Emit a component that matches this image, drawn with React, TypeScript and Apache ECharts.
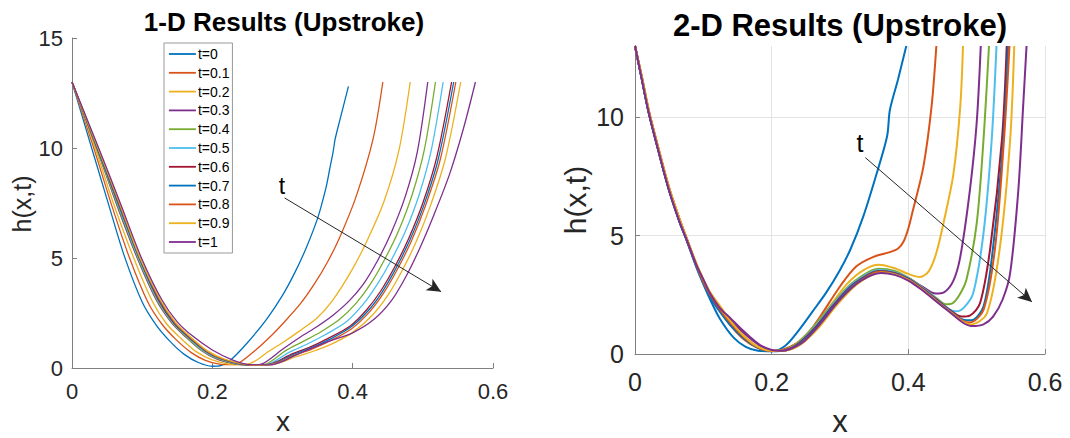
import React, { useEffect, useRef } from "react";
import * as echarts from "echarts";

const tLabels = ["t=0", "t=0.1", "t=0.2", "t=0.3", "t=0.4", "t=0.5", "t=0.6", "t=0.7", "t=0.8", "t=0.9", "t=1"];
const lineColors = ["#0072BD", "#D95319", "#EDB120", "#7E2F8E", "#77AC30", "#4DBEEE", "#A2142F", "#0072BD", "#D95319", "#EDB120", "#7E2F8E"];

const xTicks = [0, 0.2, 0.4, 0.6];
const leftYTicks = [0, 5, 10, 15];
const rightYTicks = [0, 5, 10];

// ---- 1-D results ----
const oneD_t0 = [[0,13],[0.028,10],[0.052,7.45],[0.075,5.05],[0.1,3.0],[0.12,1.95],[0.14,1.2],[0.16,0.62],[0.18,0.25],[0.2,0.08],[0.213,0.12],[0.225,0.33],[0.25,1.15],[0.277,2.2],[0.3,3.3],[0.317,4.3],[0.333,5.4],[0.35,6.8],[0.362,8.2],[0.367,9.0],[0.372,9.8],[0.375,10.4],[0.382,11.3],[0.394,12.8]];
const oneD_t01 = [[0,13],[0.031,10],[0.056,7.45],[0.082,5.0],[0.108,3.0],[0.128,2.0],[0.148,1.3],[0.17,0.7],[0.19,0.35],[0.21,0.18],[0.228,0.15],[0.24,0.27],[0.263,0.85],[0.285,1.5],[0.3,2.0],[0.325,2.9],[0.345,3.8],[0.363,4.75],[0.381,5.9],[0.405,7.8],[0.429,10.4],[0.443,13]];
const oneD_t02 = [[0,13],[0.033,10],[0.06,7.4],[0.088,5],[0.115,3.0],[0.135,2.0],[0.155,1.35],[0.178,0.72],[0.2,0.37],[0.225,0.17],[0.245,0.14],[0.26,0.3],[0.28,0.75],[0.3,1.15],[0.325,1.7],[0.35,2.3],[0.372,3.1],[0.398,4.4],[0.42,5.75],[0.445,7.6],[0.466,9.9],[0.482,13]];
const oneD_t03 = [[0,13],[0.035,10],[0.064,7.4],[0.093,5],[0.12,3.1],[0.142,2.05],[0.163,1.38],[0.185,0.78],[0.205,0.42],[0.23,0.2],[0.255,0.12],[0.272,0.2],[0.3,0.85],[0.325,1.4],[0.35,1.9],[0.372,2.4],[0.395,3.05],[0.415,3.8],[0.435,4.85],[0.455,6.15],[0.475,7.8],[0.492,9.8],[0.507,13]];
const oneD_t04 = [[0,13],[0.035,10],[0.065,7.4],[0.094,5],[0.121,3.1],[0.143,2.05],[0.164,1.38],[0.186,0.78],[0.207,0.42],[0.232,0.2],[0.258,0.12],[0.278,0.2],[0.305,0.8],[0.329,1.2],[0.355,1.65],[0.381,2.2],[0.405,2.95],[0.425,3.8],[0.445,4.9],[0.465,6.2],[0.485,7.9],[0.502,9.9],[0.518,13]];
const oneD_t05 = [[0,13],[0.036,10],[0.066,7.4],[0.095,5],[0.122,3.1],[0.144,2.05],[0.166,1.38],[0.188,0.78],[0.21,0.42],[0.235,0.2],[0.26,0.12],[0.282,0.2],[0.31,0.72],[0.334,1.07],[0.36,1.5],[0.391,2.1],[0.415,2.9],[0.435,3.8],[0.455,4.9],[0.475,6.2],[0.495,7.9],[0.512,9.9],[0.529,13]];
const oneD_t06 = [[0,13],[0.036,10],[0.067,7.4],[0.096,5],[0.123,3.1],[0.145,2.05],[0.167,1.38],[0.19,0.78],[0.212,0.42],[0.237,0.2],[0.262,0.12],[0.285,0.2],[0.312,0.62],[0.339,0.95],[0.365,1.35],[0.396,1.9],[0.42,2.65],[0.44,3.5],[0.46,4.6],[0.48,5.9],[0.5,7.5],[0.52,9.6],[0.541,13]];
const oneD_t07 = [[0,13],[0.036,10],[0.067,7.4],[0.096,5],[0.124,3.1],[0.146,2.05],[0.168,1.38],[0.191,0.78],[0.213,0.42],[0.238,0.2],[0.263,0.12],[0.287,0.2],[0.314,0.6],[0.34,0.9],[0.367,1.3],[0.397,1.85],[0.422,2.6],[0.442,3.45],[0.462,4.55],[0.482,5.85],[0.502,7.45],[0.522,9.5],[0.544,13]];
const oneD_t08 = [[0,13],[0.037,10],[0.068,7.4],[0.097,5],[0.125,3.1],[0.147,2.05],[0.169,1.38],[0.192,0.78],[0.214,0.42],[0.24,0.2],[0.265,0.12],[0.289,0.2],[0.316,0.57],[0.342,0.86],[0.369,1.25],[0.399,1.8],[0.424,2.55],[0.444,3.4],[0.464,4.5],[0.484,5.8],[0.504,7.4],[0.525,9.5],[0.547,13]];
const oneD_t09 = [[0,13],[0.037,10],[0.069,7.4],[0.097,5],[0.126,3.1],[0.148,2.05],[0.17,1.38],[0.193,0.78],[0.216,0.42],[0.242,0.2],[0.268,0.12],[0.292,0.2],[0.318,0.5],[0.343,0.75],[0.372,1.12],[0.4,1.62],[0.428,2.4],[0.45,3.3],[0.47,4.4],[0.49,5.7],[0.51,7.3],[0.532,9.5],[0.554,13]];
const oneD_t1 = [[0,13],[0.038,10],[0.07,7.4],[0.099,5],[0.128,3.1],[0.15,2.1],[0.172,1.45],[0.2,0.82],[0.23,0.35],[0.255,0.15],[0.282,0.14],[0.3,0.3],[0.325,0.68],[0.363,1.18],[0.4,1.6],[0.43,2.2],[0.455,3.05],[0.475,4.1],[0.495,5.4],[0.515,6.9],[0.538,8.8],[0.558,10.9],[0.575,13]];

// ---- 2-D results ----
const twoD_t0 = [[0,13],[0.01,11.6],[0.02,10.2],[0.035,8.5],[0.05,6.9],[0.065,5.6],[0.076,4.75],[0.09,3.65],[0.1,2.95],[0.11,2.3],[0.124,1.5],[0.144,0.7],[0.162,0.3],[0.18,0.14],[0.2,0.12],[0.22,0.35],[0.241,1.05],[0.26,1.8],[0.28,2.6],[0.3,3.55],[0.315,4.4],[0.334,5.8],[0.354,7.65],[0.369,9.2],[0.373,10.3],[0.385,11.6],[0.397,13]];
const twoD_t01 = [[0,13],[0.01,11.7],[0.02,10.3],[0.035,8.6],[0.05,7.0],[0.065,5.7],[0.076,4.85],[0.09,3.75],[0.1,3.05],[0.11,2.45],[0.125,1.8],[0.14,1.2],[0.16,0.6],[0.18,0.25],[0.2,0.13],[0.215,0.17],[0.237,0.46],[0.255,0.95],[0.271,1.58],[0.3,2.85],[0.324,3.7],[0.349,4.1],[0.373,4.3],[0.385,4.45],[0.393,4.75],[0.4,5.3],[0.407,6.1],[0.422,7.9],[0.434,10.45],[0.441,13]];
const twoD_t02 = [[0,13],[0.01,11.7],[0.02,10.3],[0.035,8.6],[0.05,7.0],[0.065,5.7],[0.076,4.85],[0.09,3.8],[0.1,3.15],[0.11,2.6],[0.125,2.0],[0.14,1.4],[0.16,0.75],[0.18,0.3],[0.2,0.14],[0.215,0.15],[0.235,0.4],[0.26,1.1],[0.285,2.0],[0.31,2.95],[0.335,3.55],[0.357,3.77],[0.38,3.62],[0.4,3.38],[0.417,3.25],[0.43,3.5],[0.441,4.27],[0.452,5.6],[0.466,7.6],[0.476,10.45],[0.48,13]];
const twoD_t03 = [[0,13],[0.01,11.6],[0.02,10.2],[0.035,8.5],[0.05,6.9],[0.065,5.6],[0.076,4.8],[0.09,3.75],[0.1,3.1],[0.11,2.5],[0.124,1.9],[0.14,1.4],[0.155,1.0],[0.17,0.62],[0.185,0.32],[0.2,0.15],[0.212,0.13],[0.225,0.22],[0.245,0.55],[0.27,1.35],[0.3,2.4],[0.33,3.2],[0.358,3.55],[0.38,3.45],[0.4,3.2],[0.42,2.85],[0.44,2.55],[0.452,2.6],[0.466,3.1],[0.476,4.1],[0.49,6.9],[0.5,9.75],[0.506,13]];
const twoD_t04 = [[0,13],[0.01,11.6],[0.02,10.2],[0.035,8.5],[0.05,6.9],[0.065,5.6],[0.076,4.8],[0.09,3.7],[0.1,3.05],[0.11,2.45],[0.125,1.85],[0.14,1.3],[0.16,0.7],[0.18,0.28],[0.2,0.13],[0.215,0.15],[0.235,0.4],[0.26,1.1],[0.29,2.15],[0.32,3.05],[0.357,3.6],[0.38,3.5],[0.4,3.22],[0.42,2.82],[0.44,2.38],[0.455,2.1],[0.465,2.15],[0.475,2.5],[0.485,3.13],[0.5,5.5],[0.51,9.05],[0.518,13]];
const twoD_t05 = [[0,13],[0.01,11.6],[0.02,10.2],[0.035,8.5],[0.05,6.9],[0.065,5.6],[0.076,4.8],[0.09,3.7],[0.1,3.05],[0.11,2.45],[0.125,1.85],[0.14,1.3],[0.16,0.7],[0.18,0.28],[0.2,0.13],[0.218,0.15],[0.238,0.42],[0.262,1.1],[0.29,2.1],[0.32,3.0],[0.358,3.55],[0.38,3.45],[0.4,3.2],[0.42,2.8],[0.44,2.35],[0.458,1.92],[0.47,1.8],[0.482,1.98],[0.495,2.57],[0.51,5.1],[0.522,9.05],[0.529,13]];
const twoD_t06 = [[0,13],[0.01,11.6],[0.02,10.2],[0.035,8.5],[0.05,6.9],[0.065,5.6],[0.076,4.8],[0.09,3.7],[0.1,3.05],[0.11,2.45],[0.125,1.85],[0.14,1.3],[0.16,0.7],[0.18,0.28],[0.2,0.13],[0.22,0.16],[0.24,0.45],[0.265,1.15],[0.29,2.05],[0.32,2.95],[0.358,3.5],[0.38,3.42],[0.4,3.18],[0.42,2.78],[0.44,2.33],[0.46,1.88],[0.478,1.58],[0.49,1.62],[0.505,2.15],[0.52,4.5],[0.537,9.05],[0.544,13]];
const twoD_t07 = [[0,13],[0.01,11.6],[0.02,10.2],[0.035,8.5],[0.05,6.9],[0.065,5.6],[0.076,4.8],[0.09,3.7],[0.1,3.0],[0.11,2.4],[0.125,1.75],[0.14,1.2],[0.16,0.65],[0.18,0.26],[0.2,0.12],[0.22,0.15],[0.24,0.42],[0.265,1.1],[0.29,2.0],[0.32,2.92],[0.358,3.48],[0.38,3.4],[0.4,3.16],[0.42,2.76],[0.44,2.3],[0.46,1.85],[0.48,1.45],[0.492,1.42],[0.51,2.0],[0.524,4.5],[0.539,9.05],[0.546,13]];
const twoD_t08 = [[0,13],[0.01,11.7],[0.02,10.3],[0.035,8.6],[0.05,7.0],[0.065,5.7],[0.076,4.85],[0.09,3.75],[0.1,3.05],[0.11,2.5],[0.125,1.85],[0.14,1.3],[0.16,0.7],[0.18,0.28],[0.2,0.13],[0.222,0.16],[0.242,0.42],[0.267,1.1],[0.292,2.0],[0.322,2.92],[0.358,3.47],[0.38,3.38],[0.4,3.14],[0.42,2.74],[0.44,2.28],[0.46,1.82],[0.48,1.4],[0.49,1.33],[0.51,1.86],[0.527,4.5],[0.54,9.05],[0.548,13]];
const twoD_t09 = [[0,13],[0.01,11.7],[0.02,10.3],[0.035,8.6],[0.05,7.0],[0.065,5.7],[0.076,4.85],[0.09,3.8],[0.1,3.15],[0.11,2.6],[0.125,1.95],[0.14,1.38],[0.16,0.74],[0.18,0.3],[0.2,0.14],[0.222,0.16],[0.244,0.44],[0.27,1.15],[0.295,2.05],[0.325,2.95],[0.36,3.44],[0.38,3.36],[0.4,3.12],[0.42,2.72],[0.44,2.26],[0.46,1.8],[0.48,1.36],[0.492,1.25],[0.515,1.72],[0.534,4.5],[0.549,9.05],[0.555,13]];
const twoD_t1 = [[0,13],[0.01,11.6],[0.02,10.2],[0.035,8.5],[0.05,6.9],[0.065,5.6],[0.076,4.8],[0.09,3.75],[0.1,3.15],[0.11,2.55],[0.124,1.95],[0.14,1.5],[0.154,1.1],[0.17,0.68],[0.183,0.38],[0.2,0.17],[0.215,0.14],[0.228,0.22],[0.248,0.55],[0.272,1.3],[0.3,2.3],[0.33,3.08],[0.36,3.42],[0.38,3.34],[0.4,3.1],[0.42,2.7],[0.44,2.24],[0.46,1.78],[0.48,1.32],[0.493,1.18],[0.51,1.25],[0.524,1.58],[0.538,2.3],[0.549,3.41],[0.561,6.93],[0.568,10.45],[0.573,13]];

const oneDCurves = [oneD_t0, oneD_t01, oneD_t02, oneD_t03, oneD_t04, oneD_t05, oneD_t06, oneD_t07, oneD_t08, oneD_t09, oneD_t1];
const twoDCurves = [twoD_t0, twoD_t01, twoD_t02, twoD_t03, twoD_t04, twoD_t05, twoD_t06, twoD_t07, twoD_t08, twoD_t09, twoD_t1];

// arrow annotations (data coordinates): start, end
const arrow1D = [[0.303, 7.73], [0.526, 3.47]];
const arrow2D = [[0.337, 8.29], [0.581, 2.2]];

const FONT = '"Liberation Sans", Arial, Helvetica, sans-serif';
const AXIS_GRAY = "#808080";
const TEXT_DARK = "#262626";

function arrowSeries(pts: number[][], idx: number) {
  return {
    type: "line",
    xAxisIndex: idx,
    yAxisIndex: idx,
    data: pts,
    symbol: "none",
    silent: true,
    lineStyle: { opacity: 0 },
    markLine: {
      silent: true,
      symbol: ["none", "arrow"],
      symbolSize: [10, 14],
      label: { show: false },
      lineStyle: { color: "#262626", width: 1, type: "solid" },
      data: [[{ coord: pts[0] }, { coord: pts[1] }]],
    },
  };
}

export default function App() {
  const ref = useRef<HTMLDivElement>(null);

  useEffect(() => {
    if (!ref.current) return;
    const chart = echarts.init(ref.current, null, { renderer: "svg" });

    const series: any[] = [];
    oneDCurves.forEach((c, i) => {
      series.push({
        name: tLabels[i],
        type: "line",
        xAxisIndex: 0,
        yAxisIndex: 0,
        data: c,
        symbol: "none",
        smooth: 0.3,
        lineStyle: { color: lineColors[i], width: 1.3 },
        itemStyle: { color: lineColors[i] },
      });
    });
    twoDCurves.forEach((c, i) => {
      series.push({
        name: tLabels[i],
        type: "line",
        xAxisIndex: 1,
        yAxisIndex: 1,
        data: c,
        symbol: "none",
        smooth: 0.3,
        lineStyle: { color: lineColors[i], width: 2 },
        itemStyle: { color: lineColors[i] },
      });
    });
    series.push(arrowSeries(arrow1D, 0));
    series.push(arrowSeries(arrow2D, 1));

    const xAxisBase = (fontSize: number, margin: number, grid: boolean, idx: number) => ({
      type: "value",
      gridIndex: idx,
      min: xTicks[0],
      max: xTicks[xTicks.length - 1],
      interval: 0.2,
      axisLine: { show: true, onZero: false, lineStyle: { color: AXIS_GRAY, width: 1 } },
      axisTick: { show: true, inside: true, length: 5, lineStyle: { color: AXIS_GRAY } },
      axisLabel: {
        fontSize,
        margin,
        color: TEXT_DARK,
        fontFamily: FONT,
        formatter: (v: number) => String(Math.round(v * 10) / 10),
      },
      splitLine: grid
        ? { show: true, showMinLine: false, showMaxLine: true, lineStyle: { color: "#e3e3e3", width: 1 } }
        : { show: false },
    });

    chart.setOption({
      animation: false,
      backgroundColor: "#ffffff",
      grid: [
        { left: 72, top: 38, width: 421, height: 330 },
        { left: 635, top: 46, width: 410, height: 308 },
      ],
      xAxis: [xAxisBase(22, 12, false, 0), xAxisBase(25, 15, true, 1)],
      yAxis: [
        {
          type: "value",
          gridIndex: 0,
          min: leftYTicks[0],
          max: leftYTicks[leftYTicks.length - 1],
          interval: 5,
          axisLine: { show: true, onZero: false, lineStyle: { color: AXIS_GRAY, width: 1 } },
          axisTick: { show: true, inside: true, length: 5, lineStyle: { color: AXIS_GRAY } },
          axisLabel: { fontSize: 22, margin: 9, color: TEXT_DARK, fontFamily: FONT },
          splitLine: { show: false },
        },
        {
          type: "value",
          gridIndex: 1,
          min: 0,
          max: 13,
          interval: 5,
          axisLine: { show: true, onZero: false, lineStyle: { color: AXIS_GRAY, width: 1 } },
          axisTick: { show: true, inside: true, length: 5, lineStyle: { color: AXIS_GRAY }, customValues: rightYTicks },
          axisLabel: { fontSize: 25, margin: 11, color: TEXT_DARK, fontFamily: FONT, customValues: rightYTicks },
          splitLine: { show: true, showMinLine: false, showMaxLine: true, lineStyle: { color: "#e3e3e3", width: 1 } },
        },
      ],
      legend: {
        data: tLabels,
        orient: "vertical",
        left: 164,
        top: 43,
        itemWidth: 27,
        itemHeight: 14,
        itemGap: 4.8,
        padding: [4, 3, 4, 4],
        borderColor: "#999999",
        borderWidth: 1,
        backgroundColor: "#ffffff",
        itemStyle: { opacity: 0 },
        lineStyle: { width: 1.8 },
        textStyle: { fontSize: 14, color: "#000", fontFamily: FONT, padding: [0, 0, 0, -3] },
      },
      graphic: [
        { type: "text", x: 284, y: 22, style: { text: "1-D Results (Upstroke)", fill: "#000", font: `bold 26px ${FONT}`, align: "center", verticalAlign: "middle" } },
        { type: "text", x: 840, y: 25, style: { text: "2-D Results (Upstroke)", fill: "#000", font: `bold 31px ${FONT}`, align: "center", verticalAlign: "middle" } },
        { type: "text", x: 22, y: 204, rotation: Math.PI / 2, style: { text: "h(x,t)", fill: TEXT_DARK, font: `25px ${FONT}`, align: "center", verticalAlign: "middle" } },
        { type: "text", x: 575, y: 200, rotation: Math.PI / 2, style: { text: "h(x,t)", fill: TEXT_DARK, font: `30px ${FONT}`, align: "center", verticalAlign: "middle" } },
        { type: "text", x: 283, y: 421, style: { text: "x", fill: TEXT_DARK, font: `28px ${FONT}`, align: "center", verticalAlign: "middle" } },
        { type: "text", x: 840, y: 421, style: { text: "x", fill: TEXT_DARK, font: `31px ${FONT}`, align: "center", verticalAlign: "middle" } },
        { type: "text", x: 282, y: 186, style: { text: "t", fill: "#000", font: `23px ${FONT}`, align: "center", verticalAlign: "middle" } },
        { type: "text", x: 860, y: 143, style: { text: "t", fill: "#000", font: `25px ${FONT}`, align: "center", verticalAlign: "middle" } },
      ],
      series,
    });

    return () => chart.dispose();
  }, []);

  return <div ref={ref} style={{ position: "fixed", left: 0, top: 0, width: 1070, height: 438 }} />;
}
